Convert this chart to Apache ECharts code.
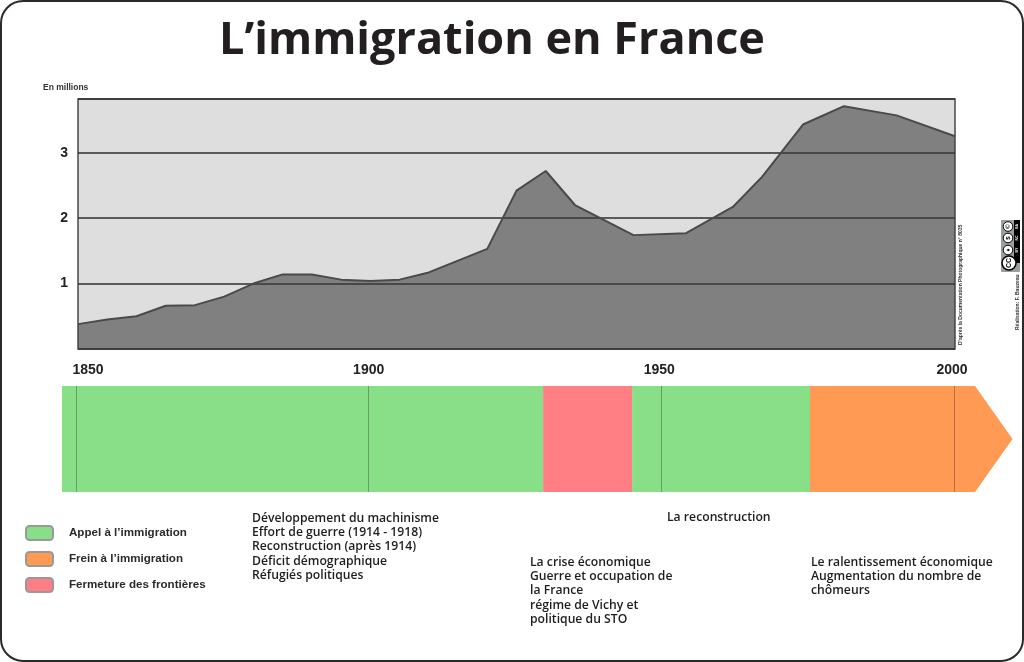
<!DOCTYPE html>
<html lang="fr">
<head>
<meta charset="utf-8">
<title>L’immigration en France</title>
<style>
html,body{margin:0;padding:0;background:#fff}
#chart{width:1024px;height:662px}
</style>
<script src="https://cdn.jsdelivr.net/npm/echarts@6/dist/echarts.min.js"></script>
</head>
<body>
<div id="chart"></div>
<script>
// Foreign population in France, in millions
const years = [1850, 1855, 1860, 1865, 1870, 1875, 1880, 1885, 1890, 1895, 1900, 1905, 1910, 1920, 1925, 1930, 1935, 1945, 1954, 1962, 1967, 1974, 1981, 1990, 2000];
const immigrants = [0.38, 0.45, 0.5, 0.66, 0.67, 0.8, 1.0, 1.14, 1.14, 1.06, 1.04, 1.06, 1.17, 1.53, 2.42, 2.72, 2.2, 1.74, 1.77, 2.17, 2.63, 3.43, 3.71, 3.57, 3.25];

// Periods of the timeline: start year, end year
const appelPeriods = [[1847.6, 1929.8], [1945, 1975.4]];
const fermeturePeriods = [[1929.8, 1945]];
const freinPeriods = [[1975.4, 2003.6]];
const arrowTipYear = 2010;

const seriesNames = ['Appel à l’immigration', 'Frein à l’immigration', 'Fermeture des frontières'];

const block1 = ['Développement du machinisme', 'Effort de guerre (1914 - 1918)', 'Reconstruction (après 1914)', 'Déficit démographique', 'Réfugiés politiques'];
const block2 = ['La reconstruction'];
const block3 = ['La crise économique', 'Guerre et occupation de', 'la France', 'régime de Vichy et', 'politique du STO'];
const block4 = ['Le ralentissement économique', 'Augmentation du nombre de', 'chômeurs'];

const bodyFont = '"Open Sans", "Noto Sans", sans-serif';
const arial = '"Liberation Sans", Arial, sans-serif';

function periodItem(params, api) {
  const a = api.coord([api.value(0), 1]);
  const b = api.coord([api.value(1), 0]);
  return { type: 'rect', shape: { x: a[0], y: a[1], width: b[0] - a[0], height: b[1] - a[1] }, style: { fill: api.visual('color') } };
}

function arrowItem(params, api) {
  const x0 = api.value(0), x1 = api.value(1);
  const pts = [[x0, 1], [x1, 1], [arrowTipYear, 0.5], [x1, 0], [x0, 0]].map(p => api.coord(p));
  return { type: 'polygon', shape: { points: pts }, style: { fill: api.visual('color') } };
}

function periodSeries(name, color, data, render) {
  return {
    name: name, type: 'custom', xAxisIndex: 1, yAxisIndex: 1, data: data,
    itemStyle: { color: color, borderColor: '#999', borderWidth: 1 },
    encode: { x: [0, 1] }, renderItem: render, silent: true
  };
}

function textBlock(lines, x, y) {
  return {
    type: 'text', x: x, y: y, z: 5,
    style: { text: lines.join('\n'), fill: '#1e1e1e', font: '600 12.2px ' + bodyFont, lineHeight: 14.3 }
  };
}

// Year labels: the first sits right of its tick, the later ones slightly left
function yearLabel(value) {
  if (value === 1850) return '{first|' + value + '}';
  if (value === 1900) return String(value);
  return '{late|' + value + '}';
}

const yearStyle = { color: '#222', fontFamily: arial, fontSize: 14, fontWeight: 'bold' };
const ccMarks = [
  { y: 250, t: '♦', n: 'BY' }, { y: 238, t: '$', n: 'NC' }, { y: 226.5, t: '©', n: 'SA' }
];

const chart = echarts.init(document.getElementById('chart'));
chart.setOption({
  animation: false,
  backgroundColor: '#fff',
  grid: [
    { left: 78, top: 99, width: 877, height: 250, show: true, backgroundColor: '#dedede', borderColor: '#4a4a4a', borderWidth: 1.5 },
    { left: 76, top: 386, width: 878, height: 106 }
  ],
  xAxis: [
    { type: 'value', gridIndex: 0, min: 1850, max: 2000, show: false },
    {
      type: 'value', gridIndex: 1, min: 1850, max: 2000, interval: 50, position: 'top', z: 10,
      splitLine: { show: false }, axisLine: { show: false, onZero: false },
      axisTick: { show: true, inside: true, length: 106, lineStyle: { color: 'rgba(0,0,0,0.28)', width: 1 } },
      axisLabel: Object.assign({}, yearStyle, {
        margin: 9, formatter: yearLabel,
        rich: { first: Object.assign({}, yearStyle, { padding: [0, 0, 0, 24] }), late: Object.assign({}, yearStyle, { padding: [0, 4, 0, 0] }) }
      })
    }
  ],
  yAxis: [
    {
      type: 'value', gridIndex: 0, min: 0, max: 3.82, interval: 1,
      axisLine: { show: false }, axisTick: { show: false },
      splitLine: { show: true, lineStyle: { color: '#2e2e2e', width: 1.5 } },
      axisLabel: { color: '#222', fontFamily: arial, fontSize: 14, fontWeight: 'bold', margin: 10, showMinLabel: false, showMaxLabel: false }
    },
    { type: 'value', gridIndex: 1, min: 0, max: 1, show: false }
  ],
  legend: {
    data: seriesNames, orient: 'vertical', left: 25, top: 525, padding: 0, itemWidth: 27, itemHeight: 14, itemGap: 10,
    icon: 'roundRect', selectedMode: false,
    textStyle: { color: '#2a2a2a', fontFamily: arial, fontSize: 11.6, fontWeight: 'bold', padding: [0, 0, 0, 11] }
  },
  series: [
    {
      type: 'line', xAxisIndex: 0, yAxisIndex: 0, data: years.map((y, i) => [y, immigrants[i]]),
      showSymbol: false, silent: true,
      lineStyle: { color: '#4a4a4a', width: 2 },
      areaStyle: { color: 'rgba(60,60,60,0.58)', opacity: 1 }
    },
    periodSeries(seriesNames[0], '#88df88', appelPeriods, periodItem),
    periodSeries(seriesNames[1], '#ff9a55', freinPeriods, arrowItem),
    periodSeries(seriesNames[2], '#ff7f84', fermeturePeriods, periodItem)
  ],
  graphic: [
    { type: 'rect', z: -1, shape: { x: 1, y: 1, width: 1022, height: 660, r: 22 }, style: { fill: 'none', stroke: '#2a2a2a', lineWidth: 2 } },
    { type: 'text', x: 492, y: 41, z: 5, style: { text: 'L’immigration en France', fill: '#231f20', font: 'bold 45px ' + bodyFont, align: 'center', verticalAlign: 'middle' } },
    { type: 'text', x: 43, y: 83, style: { text: 'En millions', fill: '#333', font: 'bold 8.5px ' + arial } },
    textBlock(block1, 252, 511),
    textBlock(block2, 667, 510),
    textBlock(block3, 530, 555),
    textBlock(block4, 811, 555),
    { type: 'text', x: 961, y: 345, rotation: Math.PI / 2, style: { text: 'D’après la Documentation Photographique n° 8035', fill: '#333', font: 'bold 5px ' + arial, verticalAlign: 'middle' } },
    { type: 'text', x: 1018, y: 330, rotation: Math.PI / 2, style: { text: 'Réalisation: F. Bauzeau', fill: '#333', font: 'bold 5px ' + arial, verticalAlign: 'middle' } },
    // Creative Commons badge, turned on its side
    { type: 'rect', shape: { x: 1001, y: 220, width: 19, height: 52, r: 1 }, style: { fill: '#9aa19a' } },
    { type: 'rect', shape: { x: 1014, y: 220, width: 6, height: 43 }, style: { fill: '#000' } },
    { type: 'circle', shape: { cx: 1009, cy: 263, r: 7 }, style: { fill: '#fff', stroke: '#000', lineWidth: 1.5 } },
    { type: 'text', x: 1009, y: 263, rotation: Math.PI / 2, style: { text: 'CC', fill: '#000', font: 'bold 7px ' + arial, align: 'center', verticalAlign: 'middle' } },
    ...ccMarks.map(m => ({ type: 'circle', shape: { cx: 1008, cy: m.y, r: 4.8 }, style: { fill: '#fff', stroke: '#000', lineWidth: 1 } })),
    ...ccMarks.map(m => ({ type: 'text', x: 1008, y: m.y, rotation: Math.PI / 2, style: { text: m.t, fill: '#000', font: 'bold 6px ' + arial, align: 'center', verticalAlign: 'middle' } })),
    ...ccMarks.map(m => ({ type: 'text', x: 1017, y: m.y, rotation: Math.PI / 2, style: { text: m.n, fill: '#fff', font: 'bold 3.6px ' + arial, align: 'center', verticalAlign: 'middle' } }))
  ]
});
</script>
</body>
</html>
